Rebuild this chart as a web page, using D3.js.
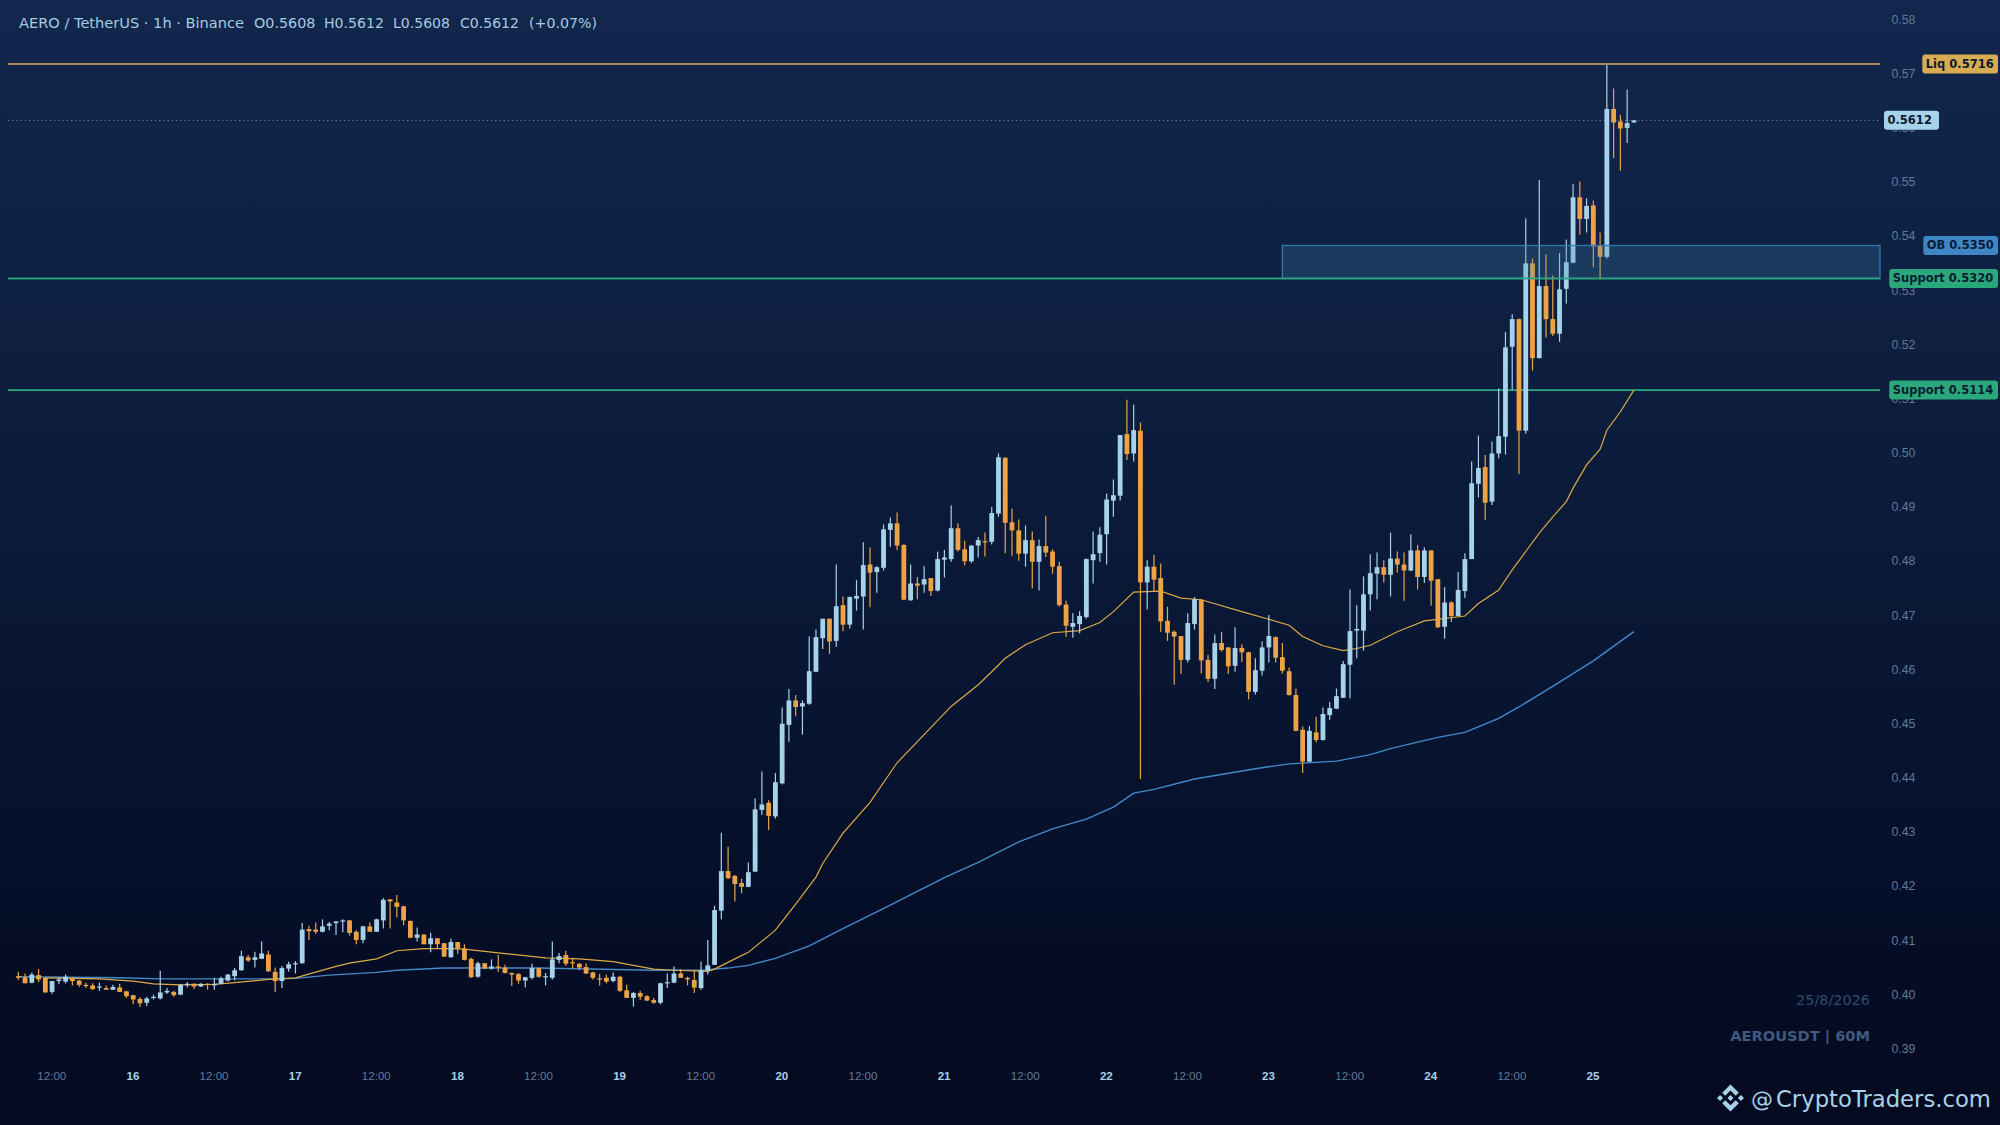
<!DOCTYPE html>
<meta charset="utf-8">
<style>
  html, body { margin: 0; padding: 0; background: #040a1f; }
  svg { display: block; font-family: "DejaVu Sans", sans-serif; }
  .wick { stroke-width: 1.2px; }
  .ma { fill: none; }
  .axis path { display: none; }
  .axis--y text { fill: #5f7a9c; font-size: 12.3px; }
  .axis--x text { fill: #5f7a9c; font-size: 11.6px; }
  .axis--x text.day { fill: #a8d0ea; font-weight: bold; }
  .tag text { font-size: 11.5px; font-weight: bold; fill: #0a1a33; }
</style>
<svg width="2000" height="1125"></svg>
<script src="https://cdn.jsdelivr.net/npm/d3@7"></script>
<script>

  // 1h candles from 15 Aug 07:00 (UTC) on, one value per hour
  var firstHour = Date.UTC(2026, 7, 15, 7);

  var opens = [
    .4032,.4030,.4020,.4034,.4029,.4003,.4023,.4022,.4029,.4024,
    .4016,.4015,.4011,.4010,.4007,.4011,.4004,.3997,.3990,.3983,
    .3992,.3991,.4002,.4003,.3998,.4016,.4018,.4013,.4018,.4015,
    .4018,.4024,.4032,.4043,.4067,.4062,.4064,.4072,.4040,.4023,
    .4046,.4054,.4056,.4119,.4118,.4114,.4125,.4130,.4133,.4135,
    .4114,.4099,.4124,.4114,.4135,.4174,.4168,.4161,.4134,.4103,
    .4109,.4091,.4102,.4093,.4067,.4095,.4083,.4064,.4031,.4056,
    .4046,.4050,.4048,.4038,.4036,.4024,.4029,.4047,.4030,.4029,
    .4062,.4071,.4058,.4055,.4049,.4039,.4028,.4029,.4023,.4031,
    .4006,.3992,.4001,.3995,.3988,.3983,.4019,.4020,.4037,.4029,
    .4025,.4010,.4042,.4053,.4153,.4226,.4217,.4204,.4197,.4225,
    .4339,.4352,.4327,.4388,.4496,.4541,.4530,.4535,.4594,.4656,
    .4692,.4651,.4717,.4681,.4729,.4733,.4792,.4778,.4786,.4856,
    .4868,.4828,.4726,.4757,.4755,.4767,.4744,.4801,.4802,.4859,
    .4820,.4798,.4827,.4835,.4834,.4886,.4989,.4870,.4855,.4812,
    .4837,.4797,.4826,.4816,.4789,.4718,.4677,.4682,.4695,.4800,
    .4813,.4848,.4910,.4919,.5033,.4997,.5039,.4759,.4788,.4767,
    .4688,.4668,.4660,.4616,.4682,.4727,.4616,.4581,.4647,.4639,
    .4605,.4638,.4630,.4557,.4596,.4639,.4658,.4621,.4595,.4551,
    .4487,.4428,.4482,.4468,.4514,.4526,.4546,.4607,.4670,.4670,
    .4737,.4775,.4787,.4773,.4803,.4792,.4781,.4818,.4769,.4818,
    .4765,.4677,.4722,.4697,.4743,.4802,.4941,.4972,.4908,.4997,
    .5028,.5194,.5245,.5039,.5348,.5173,.5306,.5245,.5218,.5301,
    .5349,.5470,.5430,.5455,.5380,.5360,.5633,.5610,.5598,.5608
  ];
  var highs = [
    .4040,.4037,.4039,.4045,.4029,.4023,.4030,.4035,.4030,.4025,
    .4020,.4019,.4020,.4015,.4016,.4018,.4005,.3997,.3993,.3994,
    .3998,.4042,.4010,.4005,.4018,.4021,.4019,.4019,.4019,.4029,
    .4031,.4036,.4047,.4079,.4071,.4077,.4096,.4079,.4048,.4051,
    .4059,.4060,.4130,.4125,.4131,.4137,.4132,.4134,.4137,.4136,
    .4117,.4125,.4131,.4138,.4176,.4174,.4182,.4162,.4135,.4122,
    .4109,.4112,.4102,.4093,.4101,.4095,.4091,.4066,.4059,.4056,
    .4063,.4071,.4053,.4039,.4038,.4031,.4055,.4048,.4038,.4096,
    .4075,.4079,.4066,.4056,.4056,.4040,.4036,.4035,.4039,.4033,
    .4016,.4003,.4005,.3997,.3992,.4020,.4037,.4050,.4045,.4031,
    .4042,.4059,.4099,.4162,.4297,.4271,.4219,.4212,.4242,.4360,
    .4410,.4357,.4407,.4528,.4562,.4551,.4541,.4659,.4672,.4692,
    .4692,.4792,.4733,.4733,.4763,.4833,.4824,.4789,.4866,.4879,
    .4888,.4830,.4792,.4769,.4789,.4767,.4816,.4819,.4901,.4868,
    .4836,.4827,.4843,.4851,.4898,.4997,.4990,.4895,.4875,.4864,
    .4853,.4838,.4882,.4820,.4797,.4725,.4702,.4706,.4803,.4853,
    .4861,.4923,.4949,.5031,.5096,.5087,.5054,.4800,.4810,.4794,
    .4714,.4670,.4660,.4702,.4732,.4728,.4625,.4663,.4668,.4639,
    .4676,.4645,.4631,.4619,.4650,.4699,.4659,.4647,.4602,.4563,
    .4493,.4494,.4511,.4528,.4538,.4563,.4614,.4746,.4717,.4770,
    .4811,.4814,.4800,.4851,.4816,.4814,.4848,.4828,.4824,.4818,
    .4765,.4750,.4724,.4778,.4813,.4982,.5030,.4994,.5019,.5117,
    .5221,.5254,.5246,.5431,.5357,.5502,.5365,.5326,.5367,.5392,
    .5494,.5499,.5468,.5464,.5405,.5714,.5671,.5622,.5669,.5612
  ];
  var lows = [
    .4025,.4019,.4019,.4021,.4002,.3999,.4017,.4019,.4015,.4012,
    .4010,.4007,.4005,.4007,.4007,.4003,.3992,.3980,.3975,.3977,
    .3989,.3989,.3999,.3994,.3997,.4011,.4008,.4012,.4007,.4007,
    .4018,.4022,.4024,.4042,.4058,.4048,.4064,.4040,.4003,.4010,
    .4040,.4037,.4055,.4099,.4110,.4113,.4117,.4108,.4113,.4107,
    .4091,.4093,.4114,.4114,.4120,.4120,.4141,.4126,.4102,.4096,
    .4091,.4076,.4083,.4068,.4066,.4073,.4061,.4029,.4029,.4045,
    .4044,.4040,.4037,.4014,.4018,.4011,.4026,.4029,.4015,.4026,
    .4056,.4051,.4046,.4043,.4036,.4026,.4015,.4019,.4021,.4003,
    .3992,.3976,.3988,.3986,.3981,.3980,.4010,.4019,.4029,.4015,
    .4001,.4007,.4035,.4053,.4137,.4211,.4170,.4185,.4196,.4225,
    .4330,.4302,.4323,.4386,.4465,.4512,.4478,.4533,.4594,.4636,
    .4627,.4640,.4669,.4674,.4707,.4672,.4713,.4740,.4781,.4825,
    .4819,.4727,.4725,.4728,.4740,.4734,.4742,.4768,.4797,.4816,
    .4790,.4795,.4805,.4807,.4829,.4880,.4813,.4808,.4799,.4788,
    .4748,.4744,.4806,.4775,.4714,.4658,.4657,.4665,.4692,.4757,
    .4797,.4792,.4880,.4910,.4985,.4982,.4396,.4709,.4742,.4668,
    .4651,.4570,.4590,.4611,.4672,.4591,.4575,.4562,.4631,.4590,
    .4594,.4612,.4543,.4552,.4587,.4611,.4611,.4591,.4550,.4484,
    .4407,.4428,.4464,.4467,.4505,.4525,.4546,.4545,.4619,.4633,
    .4707,.4728,.4759,.4733,.4777,.4725,.4780,.4746,.4758,.4716,
    .4675,.4655,.4686,.4697,.4730,.4802,.4916,.4874,.4902,.4988,
    .4995,.5115,.4959,.5034,.5150,.5173,.5211,.5214,.5203,.5274,
    .5348,.5401,.5405,.5341,.5318,.5357,.5542,.5519,.5570,.5608
  ];
  var closes = [
    .4029,.4019,.4035,.4026,.4002,.4023,.4026,.4031,.4023,.4016,
    .4014,.4008,.4013,.4007,.4012,.4003,.3995,.3989,.3982,.3991,
    .3994,.4002,.4005,.3997,.4016,.4018,.4013,.4018,.4016,.4018,
    .4028,.4035,.4043,.4069,.4061,.4067,.4074,.4041,.4023,.4047,
    .4054,.4056,.4118,.4115,.4114,.4124,.4129,.4133,.4135,.4112,
    .4099,.4124,.4114,.4137,.4173,.4170,.4160,.4135,.4103,.4109,
    .4091,.4102,.4091,.4068,.4095,.4083,.4062,.4030,.4056,.4046,
    .4050,.4048,.4038,.4035,.4024,.4030,.4047,.4031,.4032,.4063,
    .4069,.4055,.4056,.4048,.4037,.4029,.4027,.4022,.4031,.4005,
    .3992,.4001,.3994,.3987,.3983,.4019,.4021,.4037,.4029,.4026,
    .4011,.4043,.4052,.4154,.4226,.4213,.4202,.4197,.4224,.4340,
    .4349,.4328,.4390,.4498,.4541,.4529,.4536,.4595,.4658,.4692,
    .4650,.4715,.4681,.4732,.4734,.4791,.4777,.4787,.4857,.4868,
    .4827,.4727,.4757,.4753,.4765,.4743,.4802,.4805,.4859,.4819,
    .4798,.4827,.4837,.4834,.4887,.4990,.4869,.4855,.4812,.4837,
    .4797,.4826,.4814,.4788,.4717,.4679,.4684,.4697,.4802,.4811,
    .4847,.4912,.4920,.5031,.4996,.5040,.4759,.4788,.4764,.4687,
    .4666,.4659,.4616,.4684,.4728,.4615,.4581,.4647,.4634,.4604,
    .4638,.4630,.4557,.4597,.4639,.4660,.4620,.4596,.4551,.4485,
    .4428,.4485,.4468,.4516,.4527,.4549,.4608,.4669,.4673,.4737,
    .4776,.4787,.4773,.4803,.4792,.4781,.4818,.4769,.4818,.4762,
    .4676,.4722,.4697,.4745,.4802,.4942,.4970,.4906,.4997,.5029,
    .5193,.5245,.5039,.5348,.5173,.5306,.5245,.5218,.5300,.5350,
    .5470,.5430,.5454,.5379,.5360,.5633,.5608,.5597,.5607,.5612
  ];

  var fastAt = [4,12,17,20,24,29,32,37,41,47,49,53,56,60,64,66,71,78,83,88,94,97,102,103,106,108,112,115,118,119,122,126,130,133,138,142,144,146,149,153,157,160,162,165,169,172,175,181,185,188,190,193,196,198,200,204,208,214,216,219,221,223,225,227,229,230,232,234,235,237,239];
  var fastMa = [.4029,.4027,.4023,.4018,.4016,.4017,.4020,.4026,.4029,.4050,.4056,.4064,.4079,.4083,.4083,.4082,.4075,.4066,.4064,.4059,.4045,.4043,.4041,.4045,.4064,.4076,.4117,.4165,.4215,.4240,.4296,.4353,.4426,.4465,.4530,.4570,.4594,.4619,.4644,.4666,.4670,.4685,.4705,.4741,.4743,.4730,.4727,.4705,.4691,.4680,.4659,.4642,.4633,.4637,.4643,.4668,.4688,.4697,.4720,.4745,.4782,.4816,.4850,.4880,.4908,.4933,.4976,.5005,.5040,.5074,.5114];
  var slowAt = [0,15,21,30,38,41,46,53,56,63,77,94,101,105,108,112,117,122,129,137,142,148,153,158,162,165,168,174,183,188,195,200,203,207,210,214,219,222,228,233,237,239];
  var slowMa = [.4031,.4029,.4027,.4027,.4027,.4028,.4034,.4039,.4043,.4047,.4047,.4043,.4043,.4047,.4052,.4065,.4088,.4120,.4163,.4214,.4242,.4280,.4304,.4322,.4344,.4370,.4377,.4396,.4415,.4424,.4429,.4441,.4452,.4464,.4473,.4482,.4508,.4529,.4575,.4614,.4650,.4668];

  // levels on the right hand side
  var liqLevel = 0.5716;
  var supportLevels = [0.5320, 0.5114];
  var lastPrice = 0.5612;
  var obLabel = 0.5350, obTop = 0.5381, obFrom = 187;
  var yTicks = d3.range(39, 59).map(function (d) { return d / 100; });

  // pieces of the header line
  var titleParts = ["AERO / TetherUS · 1h · Binance", "O0.5608", "H0.5612", "L0.5608", "C0.5612", "(+0.07%)"];
  var titleFrom = [19, 254, 324, 393, 460, 529];
  var titleTo = [244, 315.4, 384, 450, 519, 597];

  var hour = 3600 * 1000;
  function timeAt(i) { return new Date(firstHour + i * hour); }

  var svg = d3.select("svg");

  // background gradient
  var grad = svg.append("defs").append("linearGradient")
    .attr("id", "bg").attr("x1", 0).attr("x2", 0).attr("y1", 0).attr("y2", 1);
  [[0, "#12274c"], [0.3, "#0e1f40"], [0.6, "#081633"], [0.85, "#050d26"], [1, "#040a1f"]].forEach(function (s) {
    grad.append("stop").attr("offset", s[0]).attr("stop-color", s[1]);
  });
  svg.append("rect").attr("width", 2000).attr("height", 1125).attr("fill", "url(#bg)");

  // scales
  var xScale = d3.scaleUtc().domain([timeAt(0), timeAt(239)]).range([18.3, 1633.9]);
  var yScale = d3.scaleLinear().domain([0.39, 0.58]).range([1047.7, 18.5]);
  var left = 8, right = 1880;

  // axes
  svg.append("g")
    .attr("class", "axis axis--y")
    .attr("transform", "translate(1891.5,0.8)")
    .call(d3.axisRight(yScale).tickValues(yTicks).tickSize(0).tickPadding(0).tickFormat(d3.format(".2f")));

  var xTicks = d3.utcHour.every(12).range(timeAt(5), timeAt(234));
  svg.append("g")
    .attr("class", "axis axis--x")
    .attr("transform", "translate(-0.8,1067.3)")
    .call(d3.axisBottom(xScale).tickValues(xTicks).tickSize(0).tickPadding(4)
      .tickFormat(function (d) { return d.getUTCHours() == 12 ? "12:00" : d.getUTCDate(); }))
    .selectAll("text")
    .classed("day", function (d) { return d.getUTCHours() != 12; });

  // level lines
  svg.append("line").attr("x1", left).attr("x2", right)
    .attr("y1", yScale(liqLevel)).attr("y2", yScale(liqLevel))
    .attr("stroke", "#d8ac52").attr("stroke-width", 1.6);
  svg.selectAll(".support").data(supportLevels).enter().append("line")
    .attr("class", "support").attr("x1", left).attr("x2", right)
    .attr("y1", yScale).attr("y2", yScale)
    .attr("stroke", "#2aa87c").attr("stroke-width", 1.6);
  svg.append("line").attr("x1", left).attr("x2", right)
    .attr("y1", yScale(lastPrice)).attr("y2", yScale(lastPrice))
    .attr("stroke", "#a8d0ea").attr("stroke-opacity", 0.65).attr("stroke-dasharray", "1.2,3");

  // moving averages sit under the candles
  var maLine = d3.line()
    .x(function (d) { return xScale(timeAt(d[0])); })
    .y(function (d) { return yScale(d[1]); });
  svg.append("path").attr("class", "ma")
    .attr("d", maLine(d3.zip(slowAt, slowMa)))
    .attr("stroke", "#4289c8").attr("stroke-width", 1.4);
  svg.append("path").attr("class", "ma")
    .attr("d", maLine(d3.zip(fastAt, fastMa)))
    .attr("stroke", "#dcaa44").attr("stroke-width", 1.2);

  // candles
  var upCol = "#a6d2ea", downCol = "#eda345";
  function col(i) { return closes[i] >= opens[i] ? upCol : downCol; }
  var candle = svg.selectAll(".candle").data(d3.range(opens.length)).enter().append("g")
    .attr("class", "candle");
  candle.append("line").attr("class", "wick")
    .attr("x1", function (i) { return xScale(timeAt(i)); })
    .attr("x2", function (i) { return xScale(timeAt(i)); })
    .attr("y1", function (i) { return yScale(highs[i]); })
    .attr("y2", function (i) { return yScale(lows[i]); })
    .attr("stroke", col);
  candle.append("rect")
    .attr("x", function (i) { return xScale(timeAt(i)) - 2.4; })
    .attr("width", 4.8)
    .attr("y", function (i) { return yScale(Math.max(opens[i], closes[i])); })
    .attr("height", function (i) { return Math.max(1.2, Math.abs(yScale(opens[i]) - yScale(closes[i]))); })
    .attr("fill", col);

  // order block zone, over the candles
  svg.append("rect")
    .attr("x", xScale(timeAt(obFrom)))
    .attr("width", right - xScale(timeAt(obFrom)))
    .attr("y", yScale(obTop))
    .attr("height", yScale(supportLevels[0]) - yScale(obTop))
    .attr("fill", "#3f8ab0").attr("fill-opacity", 0.25)
    .attr("stroke", "#2f78ac").attr("stroke-width", 1.3);
  svg.append("line").attr("x1", left).attr("x2", right)
    .attr("y1", yScale(supportLevels[0])).attr("y2", yScale(supportLevels[0]))
    .attr("stroke", "#2aa87c").attr("stroke-width", 1.6);

  // tags on the price axis
  function tag(label, price, x0, x1, fill) {
    var g = svg.append("g").attr("class", "tag");
    var y = yScale(price);
    g.append("rect").attr("x", x0).attr("width", x1 - x0).attr("y", y - 9.5).attr("height", 19)
      .attr("rx", 3).attr("fill", fill);
    g.append("text").attr("x", x0 + 3.5).attr("y", y).attr("dy", "0.32em").text(label);
  }
  tag("Liq 0.5716", liqLevel, 1922.3, 1998, "#d8ac52");
  tag("0.5612", lastPrice, 1884, 1939, "#a6d2ea");
  tag("OB 0.5350", obTop, 1923.3, 1998, "#3e87c4");
  tag("Support 0.5320", supportLevels[0], 1889.3, 1998, "#2aa87c");
  tag("Support 0.5114", supportLevels[1], 1889.3, 1998, "#2aa87c");

  // title and watermarks
  svg.selectAll(".title").data(titleParts).enter().append("text")
    .attr("class", "title")
    .attr("x", function (d, i) { return titleFrom[i]; })
    .attr("y", 28)
    .attr("font-size", 14.5).attr("fill", "#a6cbe3")
    .attr("textLength", function (d, i) { return titleTo[i] - titleFrom[i]; })
    .attr("lengthAdjust", "spacingAndGlyphs")
    .text(function (d) { return d; });
  svg.append("text").attr("x", 1870).attr("y", 1004.5).attr("text-anchor", "end")
    .attr("font-size", 14.4).attr("fill", "#2f4a6e").text("25/8/2026");
  svg.append("text").attr("x", 1870).attr("y", 1041).attr("text-anchor", "end")
    .attr("font-size", 14.6).attr("font-weight", "bold").attr("fill", "#3f5a80").text("AEROUSDT | 60M");
  svg.append("path")
    .attr("transform", "translate(1717,1084.5) scale(0.213)")
    .attr("fill", "#a6d2ea")
    .attr("d", "M38.73 53.2l24.59-24.58 24.6 24.6 14.3-14.31L63.32 0 24.43 38.9zM0 63.31l14.3-14.31 14.31 14.31-14.31 14.3zM38.73 73.41l24.59 24.59 24.6-24.6 14.31 14.29-38.9 38.91-38.91-38.88zM98 63.31l14.3-14.31 14.31 14.3-14.31 14.32zM77.83 63.3L63.32 48.78 52.59 59.51l-1.24 1.23-2.54 2.54 14.51 14.5 14.51-14.47z");
  svg.append("text").attr("x", 1751).attr("y", 1107)
    .attr("font-size", 22).attr("fill", "#a6d2ea").text("@");
  svg.append("text").attr("x", 1776).attr("y", 1107)
    .attr("font-size", 23).attr("fill", "#a6d2ea").attr("textLength", 215).attr("lengthAdjust", "spacingAndGlyphs")
    .text("CryptoTraders.com");

</script>
